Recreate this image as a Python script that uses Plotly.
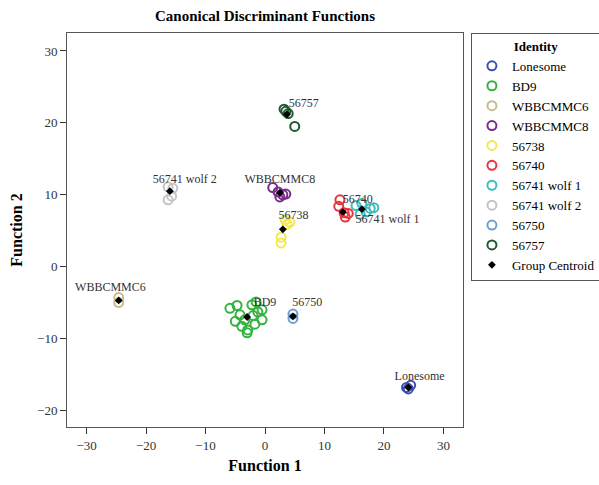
import plotly.graph_objects as go

groups = ["Lonesome", "BD9", "WBBCMMC6", "WBBCMMC8", "56738", "56740",
          "56741 wolf 1", "56741 wolf 2", "56750", "56757"]
colors = ["#3f4fb0", "#33b340", "#c9bb8c", "#7a2a8c", "#f4e84a", "#e8343a",
          "#3fbcc0", "#c4c4c4", "#6f9fd2", "#1d5a2e"]

# case scores (Function 1, Function 2) per group
f1 = {
    "Lonesome": [23.8, 24.5, 24.1],
    "BD9": [-5.9, -4.7, -4.2, -3.4, -2.2, -1.5, -1.2, -0.5, -3.9, -2.9, -5.0, -1.7, -0.5, -2.0, -3.0],
    "WBBCMMC6": [-24.6, -24.6],
    "WBBCMMC8": [1.3, 2.2, 3.0, 3.5, 2.5],
    "56738": [3.4, 3.7, 2.7, 2.7, 4.2],
    "56740": [12.6, 13.5, 14.0, 13.3, 12.4],
    "56741 wolf 1": [15.3, 16.3, 17.7, 16.0, 17.0, 18.3],
    "56741 wolf 2": [-16.3, -15.5, -16.3, -15.7],
    "56750": [4.7, 4.7],
    "56757": [3.2, 3.5, 3.9, 5.0],
}
f2 = {
    "Lonesome": [-16.8, -16.5, -17.0],
    "BD9": [-5.8, -5.4, -6.7, -7.4, -5.3, -4.9, -6.3, -7.4, -8.3, -8.8, -7.6, -8.0, -6.0, -6.8, -9.2],
    "WBBCMMC6": [-4.3, -5.0],
    "WBBCMMC8": [11.0, 10.4, 10.0, 10.1, 9.7],
    "56738": [6.5, 5.9, 4.1, 3.3, 6.2],
    "56740": [9.3, 6.9, 7.4, 7.5, 8.4],
    "56741 wolf 1": [8.5, 8.8, 8.1, 7.3, 7.6, 8.2],
    "56741 wolf 2": [11.1, 10.9, 9.3, 9.8],
    "56750": [-6.6, -7.2],
    "56757": [21.9, 21.6, 21.3, 19.5],
}
centroid_x = [24.1, -3.0, -24.6, 2.5, 3.0, 13.1, 16.3, -16.0, 4.7, 3.7]
centroid_y = [-16.8, -7.0, -4.7, 10.3, 5.2, 7.6, 8.0, 10.5, -6.9, 21.2]
label_x = [26.0, 0.0, -26.0, 2.5, 4.8, 15.6, 20.6, -13.5, 7.1, 6.5]
label_y = [-15.3, -5.0, -2.9, 12.0, 7.1, 9.3, 6.5, 12.1, -5.0, 22.6]

serif = "Liberation Serif"
fig = go.Figure()
for g, c in zip(groups, colors):
    fig.add_trace(go.Scatter(
        x=f1[g], y=f2[g], mode="markers", name=g,
        marker=dict(symbol="circle-open", size=9, color=c, line=dict(width=2, color=c)),
    ))
fig.add_trace(go.Scatter(
    x=centroid_x, y=centroid_y, mode="markers", name="Group Centroid",
    marker=dict(symbol="diamond", size=6, color="black"),
))
fig.add_trace(go.Scatter(
    x=label_x, y=label_y, mode="text", text=groups, showlegend=False,
    textfont=dict(family=serif, size=12, color="#333333"), hoverinfo="skip",
))

axis_common = dict(
    showgrid=False, zeroline=False, showline=True, linecolor="#555555", linewidth=1,
    mirror=True, ticks="outside", ticklen=6, tickcolor="#333333",
    tickfont=dict(family=serif, size=13, color="#333333"),
)
fig.update_xaxes(range=[-33.3, 33.3], tickvals=[-30, -20, -10, 0, 10, 20, 30],
                 ticktext=["\u221230", "\u221220", "\u221210", "0", "10", "20", "30"],
                 title=dict(text="<b>Function 1</b>", font=dict(family=serif, size=16, color="black"), standoff=8),
                 **axis_common)
fig.update_yaxes(range=[-22.3, 32.5], tickvals=[-20, -10, 0, 10, 20, 30],
                 ticktext=["\u221220", "\u221210", "0", "10", "20", "30"],
                 title=dict(text="<b>Function 2</b>", font=dict(family=serif, size=16, color="black"), standoff=10),
                 **axis_common)
fig.update_layout(
    width=599, height=485,
    margin=dict(l=67, r=136, t=33, b=58, autoexpand=False),
    plot_bgcolor="white", paper_bgcolor="white",
    title=dict(text="<b>Canonical Discriminant Functions</b>", x=(67 + 198) / 599, xanchor="center",
               y=1 - 16 / 485, yanchor="middle", font=dict(family=serif, size=15, color="black")),
    legend=dict(x=1.02, y=1.0, xanchor="left", yanchor="top",
                title=dict(text="<b>Identity</b>", font=dict(family=serif, size=13, color="black"), side="top center"),
                font=dict(family=serif, size=13, color="black"),
                bordercolor="#555555", borderwidth=1, tracegroupgap=0, itemwidth=30),
    showlegend=True,
)
fig.write_html("out.html")
